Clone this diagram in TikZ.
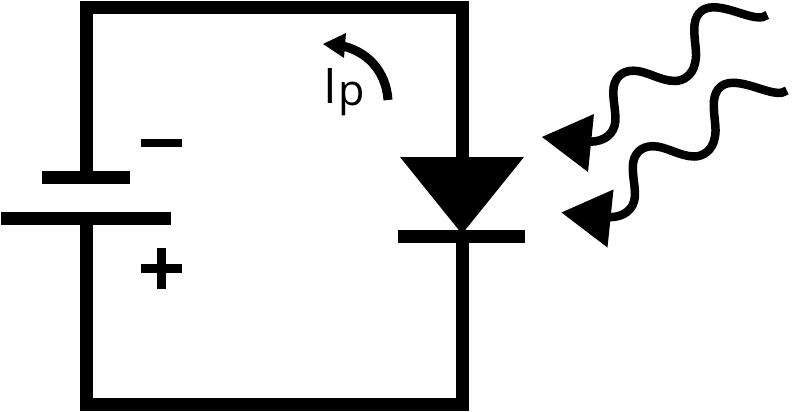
\documentclass[tikz,border=0pt]{standalone}
\usepackage{fontspec}
\setsansfont{Open Sans}
\tikzset{
  wire/.style={line width=13pt,miter limit=10},
  sign/.style={line width=8.5pt},
  wave/.style={line width=8.5pt},
  tip/.style={fill=black,draw=none}
}
\begin{document}
\begin{tikzpicture}[x=1pt,y=-1pt]
    \useasboundingbox (0,0) rectangle (793,412);
    % battery
    \coordinate (topplate) at (86,177.5);
    \coordinate (botplate) at (86,218.5);
    \coordinate (anode) at (462,157);
    \coordinate (cathode) at (462,236.5);
    \draw[wire] (42,177.5) -- (130,177.5);
    \draw[wire] (1,218.5) -- (171,218.5);
    \draw[sign] (141,143) -- (182,143);
    \draw[sign] (141,268.5) -- (182,268.5);
    \draw[sign] (161.5,248) -- (161.5,289);
    % circuit
    \draw[wire] (topplate) -- (86,7.5) -- (462,7.5) -- (anode);
    \draw[wire] (cathode) -- (462,404.5) -- (86,404.5) -- (botplate);
    % diode
    \fill[tip] (400,157) -- (524,157) -- (462,234) -- cycle;
    \draw[wire] (398,236.5) -- (525,236.5);
    % current
    \draw[line width=9pt] (388,100) .. controls (386,71) and (367,50) .. (338,45);
    \fill[tip] (323,44) -- (346,33) -- (344,58) -- cycle;
    \node[font=\sffamily,inner sep=0pt,anchor=base west] (ip) at (323.5,103) {\fontsize{49}{49}\selectfont I\kern1pt\fontsize{43}{43}\selectfont\raisebox{-2pt}{p}};
    % light
    \foreach \dx/\dy in {0/0,19.5/75.5} {
      \begin{scope}[shift={(\dx,\dy)}]
        \draw[wave] (767.3,15) .. controls (756.7,23.3) and (733.3,7.3) .. (713.3,7.3)
          .. controls (700,7.3) and (694,16.7) .. (694.3,30)
          .. controls (694.3,43.3) and (697.7,53.3) .. (695,63.3)
          .. controls (692.7,75) and (683.3,81) .. (675,81)
          .. controls (660,81) and (646.7,70.7) .. (633.3,70.7)
          .. controls (621.7,70.7) and (613.3,78.3) .. (613.3,91.7)
          .. controls (613.3,103.3) and (616,111.7) .. (615.3,121.7)
          .. controls (614.3,133.3) and (605,141.7) .. (590,141.7);
        \fill[tip] (594,114) -- (542,137) -- (588,172) -- cycle;
      \end{scope}
    }
\end{tikzpicture}
\end{document}
